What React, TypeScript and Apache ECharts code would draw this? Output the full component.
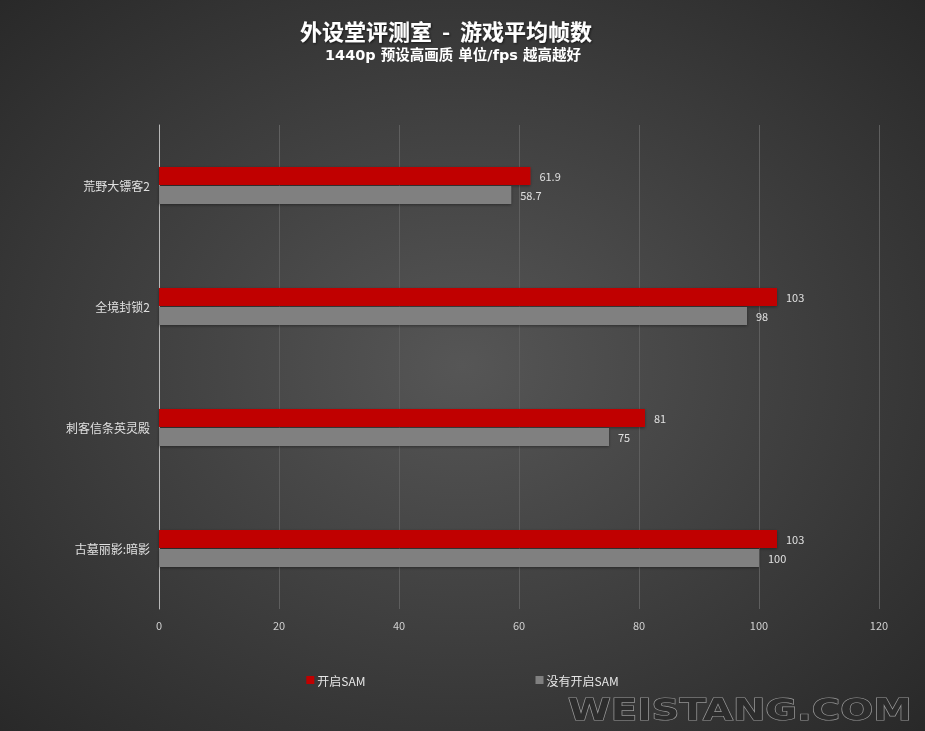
import React, { useEffect, useRef } from "react";
import * as echarts from "echarts";

const categories = ["荒野大镖客2", "全境封锁2", "刺客信条英灵殿", "古墓丽影:暗影"];
const samOn = [61.9, 103, 81, 103];
const samOff = [58.7, 98, 75, 100];
const seriesNames = ["开启SAM", "没有开启SAM"];
const xTicks = { min: 0, max: 120, interval: 20 };

const FONT = "'Noto Sans CJK SC', 'Noto Sans', sans-serif";

export default function App() {
  const ref = useRef<HTMLDivElement>(null);
  useEffect(() => {
    if (!ref.current) return;
    const chart = echarts.init(ref.current, undefined, { renderer: "svg" });
    chart.setOption({
      animation: false,
      backgroundColor: {
        type: "radial",
        x: 0.5,
        y: 0.5,
        r: 0.75,
        colorStops: [
          { offset: 0, color: "#565656" },
          { offset: 1, color: "#262626" },
        ],
      },
      title: [
        {
          text: "外设堂评测室 \u00a0-\u00a0 游戏平均帧数",
          left: 300,
          top: 18,
          padding: 0,
          textStyle: {
            color: "#ffffff",
            fontSize: 22,
            lineHeight: 24,
            fontWeight: "bold",
            fontFamily: FONT,
            textShadowColor: "rgba(0,0,0,0.6)",
            textShadowBlur: 2,
            textShadowOffsetX: 1,
            textShadowOffsetY: 1,
          },
        },
        {
          text: "1440p 预设高画质 单位/fps 越高越好",
          left: 325,
          top: 47,
          padding: 0,
          textStyle: {
            color: "#ffffff",
            fontSize: 14.5,
            lineHeight: 16,
            fontWeight: "bold",
            fontFamily: "'DejaVu Sans', 'Noto Sans CJK SC', sans-serif",
          },
        },
      ],
      legend: {
        bottom: 40,
        left: "center",
        itemWidth: 8,
        itemHeight: 8,
        itemGap: 170,
        icon: "rect",
        textStyle: { color: "#e6e6e6", fontSize: 12, fontFamily: FONT, padding: [0, 0, 0, -2] },
        data: seriesNames,
      },
      grid: { left: 159, right: 46, top: 125, bottom: 122, containLabel: false },
      xAxis: {
        type: "value",
        min: xTicks.min,
        max: xTicks.max,
        interval: xTicks.interval,
        axisLine: { show: false },
        axisTick: { show: false },
        axisLabel: { color: "#d0d0d0", fontSize: 11, fontFamily: FONT, margin: 10 },
        splitLine: { show: true, lineStyle: { color: "#5e5e5e", width: 1 } },
      },
      yAxis: {
        type: "category",
        data: categories,
        inverse: true,
        axisLine: { show: true, lineStyle: { color: "#b8b8b8", width: 1 } },
        axisTick: { show: false },
        axisLabel: { color: "#e0e0e0", fontSize: 12, fontFamily: FONT, margin: 9 },
      },
      series: [
        {
          name: seriesNames[0],
          type: "bar",
          data: samOn,
          barWidth: 18,
          barGap: "5%",
          itemStyle: { color: "#c00000", shadowColor: "rgba(0,0,0,0.4)", shadowBlur: 3, shadowOffsetY: 1 },
          label: { show: true, position: "right", distance: 9, color: "#e0e0e0", fontSize: 11, fontFamily: FONT },
        },
        {
          name: seriesNames[1],
          type: "bar",
          data: samOff,
          barWidth: 18,
          barGap: "5%",
          itemStyle: { color: "#808080", shadowColor: "rgba(0,0,0,0.4)", shadowBlur: 3, shadowOffsetY: 1 },
          label: { show: true, position: "right", distance: 9, color: "#e0e0e0", fontSize: 11, fontFamily: FONT },
        },
      ],
      graphic: [
        {
          type: "text",
          x: 568,
          y: 709,
          scaleX: 1.25,
          style: {
            text: "WEISTANG.COM",
            fontSize: 31,
            fontWeight: "bold",
            fontFamily: "'DejaVu Sans', sans-serif",
            textVerticalAlign: "middle",
            textAlign: "left",
            fill: "#2c2c2c",
            stroke: "#9a9a9a",
            lineWidth: 1.2,
            shadowColor: "rgba(200,200,200,0.6)",
            shadowBlur: 6,
          },
        },
      ],
    });
    return () => chart.dispose();
  }, []);
  return <div ref={ref} style={{ position: "fixed", left: 0, top: 0, width: 925, height: 731 }} />;
}
